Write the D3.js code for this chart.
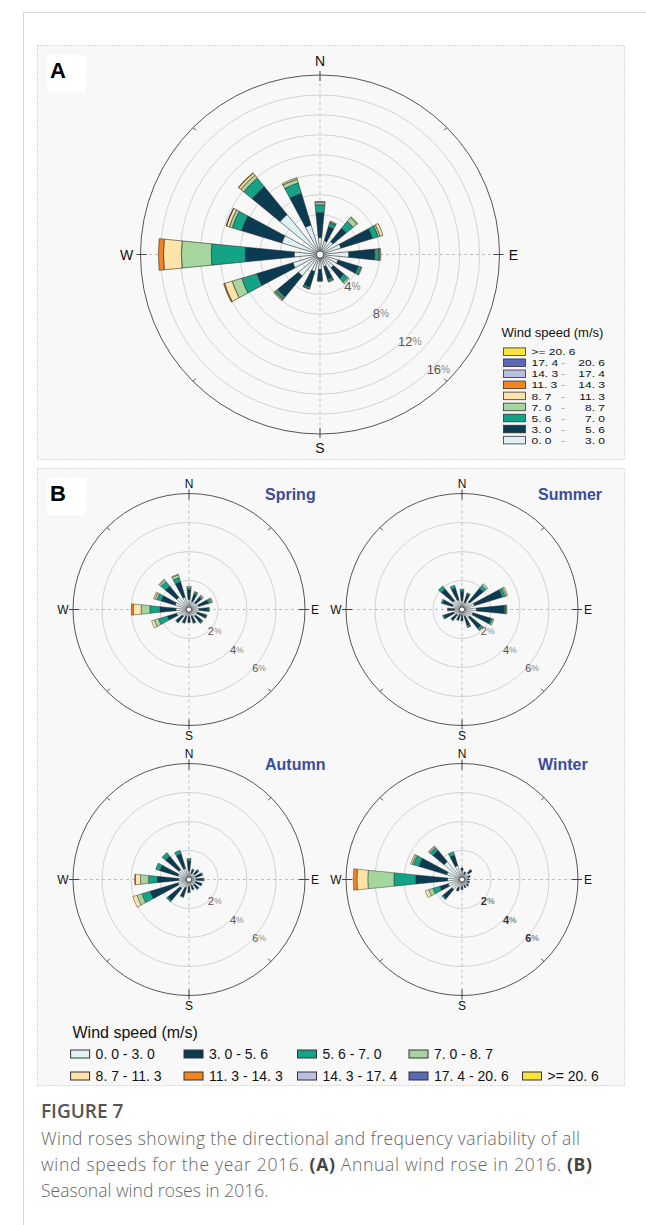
<!DOCTYPE html>
<html>
<head>
<meta charset="utf-8">
<script src="https://cdn.jsdelivr.net/npm/d3@7"></script>
<style>
  body { margin: 0; background: #ffffff; }
  svg { display: block; font-family: "Liberation Sans", Arial, Helvetica, sans-serif; }
  .caption { font-family: "Open Sans", "Noto Sans", sans-serif; }
</style>
</head>
<body>
<svg id="fig" width="646" height="1225"></svg>
<script>
// ---- data -------------------------------------------------------------
const directions = ["N","NNE","NE","ENE","E","ESE","SE","SSE","S","SSW","SW","WSW","W","WNW","NW","NNW"];
const speedBreaks = [0, 3.0, 5.6, 7.0, 8.7, 11.3, 14.3, 17.4, 20.6];
const speedColors = ["#dff1f4","#0b3a53","#15a387","#a6d59d","#fee4a8","#f5841f","#b9bfe0","#5a6ab4","#f8e33b"];

// frequency (%) per speed class (rows, slowest first) for each direction (columns)
const annual = [
  [1.7, 1.45, 1.7, 2.2, 2.9, 1.9, 1.75, 1.3, 1.5, 1.8, 2.8, 2.85, 2.6, 4.0, 5.2, 3.1],
  [2.5, 1.45, 1.7, 3.3, 2.6, 2.1, 1.35, 1.3, 1.1, 1.6, 2.7, 3.75, 4.9, 4.2, 3.6, 3.3],
  [0.8, 0.4, 0.9, 0.6, 0.4, 0.3, 0.5, 0.2, 0.1, 0.2, 0.3, 1.6, 3.4, 1.0, 1.1, 1.1],
  [0.25, 0.1, 0.5, 0.2, 0.1, 0.1, 0.2, 0.1, 0, 0.05, 0.1, 1.0, 3.0, 0.3, 0.4, 0.4],
  [0.05, 0.1, 0.1, 0.3, 0.1, 0, 0, 0, 0, 0, 0.1, 0.8, 1.8, 0.3, 0.25, 0.15],
  [0, 0, 0, 0, 0, 0, 0, 0, 0, 0, 0, 0.1, 0.5, 0.05, 0.05, 0]
];
const spring = [
  [0.7, 0.6, 0.6, 0.7, 0.7, 0.6, 0.6, 0.5, 0.5, 0.5, 0.6, 0.9, 0.9, 1.0, 1.1, 0.9],
  [0.65, 0.5, 0.5, 0.7, 0.6, 0.6, 0.55, 0.45, 0.4, 0.45, 0.55, 0.65, 1.1, 1.0, 1.0, 1.1],
  [0.15, 0.15, 0.1, 0.15, 0.08, 0.08, 0.08, 0.05, 0, 0.05, 0.05, 0.65, 0.7, 0.3, 0.4, 0.3],
  [0.1, 0.05, 0.1, 0.1, 0.02, 0.02, 0.02, 0, 0, 0, 0, 0.3, 0.6, 0.15, 0.15, 0.2],
  [0, 0, 0, 0.05, 0, 0, 0, 0, 0, 0, 0, 0.2, 0.55, 0.1, 0.05, 0.05],
  [0, 0, 0, 0, 0, 0, 0, 0, 0, 0, 0, 0, 0.13, 0, 0, 0]
];
const summer = [
  [0.6, 0.5, 0.7, 0.9, 1.0, 0.8, 0.7, 0.5, 0.4, 0.4, 0.5, 0.6, 0.5, 0.7, 0.8, 0.7],
  [0.65, 0.6, 1.2, 2.0, 1.95, 1.3, 1.0, 0.65, 0.35, 0.35, 0.45, 0.7, 0.45, 0.7, 1.05, 0.85],
  [0.15, 0.1, 0.25, 0.2, 0.1, 0.1, 0.15, 0.1, 0.05, 0.05, 0.05, 0.1, 0.05, 0.1, 0.25, 0.2],
  [0, 0, 0.15, 0.1, 0.05, 0.1, 0.05, 0.03, 0, 0, 0, 0, 0, 0, 0, 0],
  [0, 0, 0, 0.1, 0, 0, 0, 0.02, 0, 0, 0, 0, 0, 0, 0, 0]
];
const autumn = [
  [0.6, 0.45, 0.5, 0.5, 0.5, 0.5, 0.5, 0.45, 0.5, 0.6, 0.8, 0.8, 0.7, 0.8, 0.9, 0.8],
  [0.7, 0.25, 0.3, 0.4, 0.45, 0.4, 0.35, 0.25, 0.35, 0.65, 1.1, 2.0, 1.5, 1.3, 1.2, 1.05],
  [0.15, 0.05, 0.1, 0.1, 0.1, 0.05, 0.05, 0.05, 0.05, 0.05, 0.1, 0.6, 0.6, 0.3, 0.3, 0.25],
  [0, 0, 0, 0, 0, 0, 0, 0, 0, 0, 0, 0.35, 0.55, 0, 0, 0],
  [0, 0, 0, 0, 0, 0, 0, 0, 0, 0, 0, 0.3, 0.35, 0, 0, 0],
  [0, 0, 0, 0, 0, 0, 0, 0, 0, 0, 0, 0, 0.05, 0, 0, 0]
];
const winter = [
  [0.6, 0.4, 0.6, 0.45, 0.4, 0.4, 0.45, 0.45, 0.5, 0.6, 0.9, 1.0, 1.0, 1.1, 1.6, 1.0],
  [0.2, 0.15, 0.3, 0.15, 0.1, 0.15, 0.15, 0.15, 0.2, 0.25, 0.8, 0.6, 2.2, 2.0, 1.0, 0.75],
  [0, 0, 0, 0, 0, 0, 0, 0, 0, 0, 0.1, 0.5, 1.5, 0.4, 0.25, 0.25],
  [0, 0, 0, 0, 0, 0, 0, 0, 0, 0, 0, 0.3, 1.8, 0.1, 0.1, 0],
  [0, 0, 0, 0, 0, 0, 0, 0, 0, 0, 0, 0.25, 0.75, 0.1, 0.05, 0],
  [0, 0, 0, 0, 0, 0, 0, 0, 0, 0, 0, 0, 0.25, 0, 0, 0]
];

const annualRings = [2, 4, 6, 8, 10, 12, 14, 16];
const annualRingLabels = [4, 8, 12, 16];
const seasonRings = [2, 4, 6];
const seasonNames = ["Spring", "Summer", "Autumn", "Winter"];
const compassPoints = ["N", "E", "S", "W"];

// ---- helpers ----------------------------------------------------------
const speedKeys = speedColors.map((c, i) => "c" + i);
const fmt = v => d3.format(".1f")(v).replace(".", ". ");
const speedLabels = speedBreaks.map((b, i) =>
  i < speedBreaks.length - 1 ? [fmt(b), fmt(speedBreaks[i + 1])] : [">= " + fmt(b)]);

const svg = d3.select("#fig");

// page frame
svg.append("line").attr("x1", 23.5).attr("x2", 23.5).attr("y1", 12).attr("y2", 1225)
  .attr("stroke", "#d6d6d6").attr("stroke-width", 1);
svg.append("line").attr("x1", 23).attr("x2", 646).attr("y1", 12.5).attr("y2", 12.5)
  .attr("stroke", "#d6d6d6").attr("stroke-width", 1);

// panel boxes
function panelBox(y0, y1, letter) {
  svg.append("rect").attr("x", 37.5).attr("y", y0 + 0.5).attr("width", 587).attr("height", y1 - y0)
    .attr("fill", "#f8f8f8").attr("stroke", "#b8b8b8").attr("stroke-width", 1)
    .attr("stroke-dasharray", "1,2");
  svg.append("rect").attr("x", 47).attr("y", y0 + 10).attr("width", 39).attr("height", 37).attr("fill", "#ffffff");
  svg.append("text").attr("x", 50).attr("y", y0 + 33).text(letter)
    .attr("font-size", 22).attr("font-weight", "bold").attr("fill", "#000");
}
panelBox(45, 459, "A");
panelBox(468, 1085, "B");

function drawRose(rows, o) {
  const g = svg.append("g").attr("transform", `translate(${o.cx},${o.cy})`);
  const r = d3.scaleLinear().domain([0, o.max]).range([0, o.R]);
  const step = 2 * Math.PI / directions.length;
  const ang = d3.scaleBand().domain(directions)
    .range([-step / 2, 2 * Math.PI - step / 2]).paddingInner(0.5).paddingOuter(0.25);

  const table = directions.map((d, i) => {
    const row = { dir: d };
    speedKeys.forEach((k, j) => { row[k] = rows[j] ? rows[j][i] : 0; });
    return row;
  });
  const series = d3.stack().keys(speedKeys)(table);

  // rings
  g.selectAll("circle.ring").data(o.rings).join("circle").attr("class", "ring")
    .attr("r", d => r(d)).attr("fill", "none").attr("stroke", "#d2d2d2").attr("stroke-width", 1);

  // dashed compass axes
  [0, 90, 180, 270].forEach(deg => {
    const t = deg * Math.PI / 180;
    g.append("line").attr("x1", 0).attr("y1", 0)
      .attr("x2", Math.sin(t) * o.R).attr("y2", -Math.cos(t) * o.R)
      .attr("stroke", "#bdbdbd").attr("stroke-width", 1).attr("stroke-dasharray", "3,3");
  });

  // outer circle and ticks
  g.append("circle").attr("r", o.R).attr("fill", "none").attr("stroke", "#555").attr("stroke-width", 1);
  d3.range(0, 360, 45).forEach(deg => {
    const t = deg * Math.PI / 180, card = deg % 90 === 0;
    const r0 = o.R - (card ? 6 : 4), r1 = o.R + (card ? 4 : 0);
    g.append("line")
      .attr("x1", Math.sin(t) * r0).attr("y1", -Math.cos(t) * r0)
      .attr("x2", Math.sin(t) * r1).attr("y2", -Math.cos(t) * r1)
      .attr("stroke", "#444").attr("stroke-width", 1);
  });

  // stacked wedges
  const arc = d3.arc();
  series.forEach((s, j) => {
    g.append("g").selectAll("path")
      .data(s.filter(d => d[1] - d[0] > 0.0001))
      .join("path")
      .attr("d", d => arc({
        innerRadius: r(d[0]), outerRadius: r(d[1]),
        startAngle: ang(d.data.dir), endAngle: ang(d.data.dir) + ang.bandwidth()
      }))
      .attr("fill", speedColors[j]).attr("stroke", "#2b2b2b").attr("stroke-width", o.stroke);
  });

  // hub
  g.append("circle").attr("r", o.hub).attr("fill", "#fff").attr("stroke", "#333").attr("stroke-width", 0.8);

  // compass letters
  compassPoints.forEach((p, i) => {
    const t = i * Math.PI / 2, rr = o.R + o.labelGap;
    g.append("text").attr("x", Math.sin(t) * rr).attr("y", -Math.cos(t) * rr)
      .attr("text-anchor", "middle").attr("dominant-baseline", "central")
      .attr("font-size", o.compassSize).attr("fill", "#111").text(p);
  });

  // ring percentage labels
  const lt = o.labelAngle * Math.PI / 180;
  o.ringLabels.forEach(v => {
    const rr = r(v) + o.labelOffset;
    const t = g.append("text").attr("x", Math.sin(lt) * rr).attr("y", -Math.cos(lt) * rr)
      .attr("text-anchor", "middle").attr("dominant-baseline", "central")
      .attr("font-size", o.pctSize).attr("fill", o.pctColor).attr("font-weight", o.pctWeight);
    t.append("tspan").text(v);
    t.append("tspan").attr("font-size", o.pctSize * 0.78).attr("fill", "#8a8a8a").text("%");
  });
  return g;
}

// ---- panel A: annual rose ---------------------------------------------
drawRose(annual, {
  cx: 320, cy: 254.5, R: 179.5, max: 18, rings: annualRings, ringLabels: annualRingLabels,
  hub: 3.6, stroke: 0.6, labelGap: 14, compassSize: 14, labelAngle: 134, labelOffset: 5,
  pctSize: 13, pctColor: "#555", pctWeight: "normal"
});

// legend A (fastest class on top); glyphs are squeezed vertically to fit the tight rows
const legA = svg.append("g");
legA.append("text").attr("x", 501.5).attr("y", 337).attr("font-size", 13).attr("fill", "#111")
  .text("Wind speed (m/s)");
const legAOrder = d3.range(speedColors.length).reverse();
const legText = (x, y, s, anchor, fill) =>
  legA.append("text").attr("transform", `translate(${x},${y}) scale(1,0.82)`)
    .attr("font-size", 12).attr("text-anchor", anchor).attr("fill", fill).text(s);
legAOrder.forEach((ci, i) => {
  const y = 351.7 + i * 11.05;
  legA.append("rect").attr("x", 503.5).attr("y", y - 3.8).attr("width", 22).attr("height", 7.6)
    .attr("fill", speedColors[ci]).attr("stroke", "#333").attr("stroke-width", 0.8);
  const lab = speedLabels[ci];
  legText(531.5, y + 3.6, lab[0], "start", "#111");
  if (lab.length > 1) {
    legText(563, y + 3.6, "-", "middle", "#999");
    legText(605, y + 3.6, lab[1], "end", "#111");
  }
});

// ---- panel B: seasonal roses ------------------------------------------
const seasonData = [spring, summer, autumn, winter];
const seasonCenters = [[189, 609.5], [462, 609.5], [189, 879.5], [462, 879.5]];
seasonData.forEach((rows, i) => {
  const [cx, cy] = seasonCenters[i];
  const isWinter = seasonNames[i] === "Winter";
  drawRose(rows, {
    cx, cy, R: 116, max: 8, rings: seasonRings, ringLabels: seasonRings,
    hub: 2.6, stroke: 0.45, labelGap: 10, compassSize: 12, labelAngle: 130, labelOffset: 4.5,
    pctSize: 11, pctColor: isWinter ? "#333" : "#555", pctWeight: isWinter ? "bold" : "normal"
  });
  svg.append("text").attr("x", cx + 76).attr("y", cy - 110).attr("font-size", 16)
    .attr("fill", "#3c4c9c").attr("font-weight", "bold").text(seasonNames[i]);
});

// legend B
const legB = svg.append("g");
legB.append("text").attr("x", 72.5).attr("y", 1038).attr("font-size", 16).attr("fill", "#111")
  .text("Wind speed (m/s)");
const colX = [70.6, 184, 297.5, 409, 522.5];
speedColors.forEach((c, ci) => {
  const row = ci < 4 ? 0 : 1, col = ci < 4 ? ci : ci - 4;
  const y = row === 0 ? 1054 : 1076;
  const x = colX[col];
  legB.append("rect").attr("x", x).attr("y", y - 4).attr("width", 19).attr("height", 8)
    .attr("fill", c).attr("stroke", "#333").attr("stroke-width", 1);
  const lab = speedLabels[ci];
  legB.append("text").attr("x", x + 25).attr("y", y + 5).attr("font-size", 14).attr("fill", "#111")
    .text(lab.length > 1 ? lab[0] + " - " + lab[1] : lab[0]);
});

// ---- caption ----------------------------------------------------------
const cap = svg.append("g").attr("class", "caption");
cap.append("text").attr("x", 41).attr("y", 1118).attr("font-size", 19).attr("font-weight", 600)
  .attr("fill", "#555").text("FIGURE 7");
const capLines = [
  { parts: [["Wind roses showing the directional and frequency variability of all", false]], width: 539 },
  { parts: [["wind speeds for the year 2016. ", false], ["(A)", true], [" Annual wind rose in 2016. ", false], ["(B)", true]], width: 551 },
  { parts: [["Seasonal wind roses in 2016.", false]], width: null }
];
capLines.forEach((line, i) => {
  const t = cap.append("text").attr("x", 41).attr("y", 1145 + i * 26).attr("font-size", 17.5)
    .attr("font-weight", 300).attr("fill", "#666");
  if (line.width) t.attr("textLength", line.width).attr("lengthAdjust", "spacing");
  line.parts.forEach(([s, b]) => t.append("tspan").attr("font-weight", b ? "bold" : 300)
    .attr("fill", b ? "#444" : "#666").text(s));
});
</script>
</body>
</html>
